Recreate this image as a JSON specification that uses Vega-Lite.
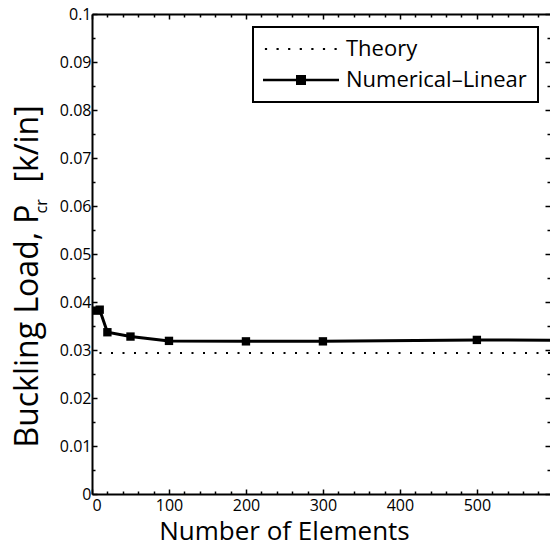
{
  "$schema": "https://vega.github.io/schema/vega-lite/v6.json",
  "width": 458,
  "height": 480,
  "autosize": {"type": "none"},
  "padding": {"left": 92, "top": 14, "right": 0, "bottom": 53},
  "background": "white",
  "config": {
    "view": {"stroke": null},
    "font": "Open Sans",
    "axis": {
      "grid": false,
      "domainColor": "black",
      "domainWidth": 2,
      "tickColor": "black",
      "tickWidth": 1.5,
      "labelColor": "black",
      "labelFont": "Open Sans",
      "labelFontSize": 16,
      "titleColor": "black",
      "titleFont": "Open Sans",
      "titleFontWeight": "normal"
    },
    "legend": {
      "strokeColor": "black",
      "strokeWidth": 2,
      "fillColor": "white"
    }
  },
  "datasets": {
    "num": [
      {"n": 5, "p": 0.0382},
      {"n": 10, "p": 0.0384},
      {"n": 20, "p": 0.0337},
      {"n": 50, "p": 0.0328},
      {"n": 100, "p": 0.0319},
      {"n": 200, "p": 0.0318},
      {"n": 300, "p": 0.0318},
      {"n": 500, "p": 0.0321},
      {"n": 1000, "p": 0.0318}
    ],
    "theory": [{"series": "Theory", "value": 0.0294}],
    "leg": [{"series": "Theory"}, {"series": "Numerical–Linear"}]
  },
  "layer": [
    {
      "data": {"name": "theory"},
      "mark": {"type": "rule", "color": "black", "strokeWidth": 2, "strokeDash": [2, 9.5]},
      "encoding": {
        "y": {
          "field": "value", "type": "quantitative",
          "scale": {"domain": [0, 0.1], "nice": false, "zero": false},
          "axis": {
            "orient": "left",
            "values": [0, 0.01, 0.02, 0.03, 0.04, 0.05, 0.06, 0.07, 0.08, 0.09, 0.1],
            "format": "~g",
            "tickSize": -5,
            "labelPadding": 6,
            "title": "Buckling Load, P\u00a0\u00a0\u2009[k/in]",
            "titleFontSize": 32,
            "titleAngle": -90,
            "titleAlign": "left",
            "titleBaseline": "alphabetic",
            "titleX": -55,
            "titleY": 433
          }
        }
      }
    },
    {
      "data": {"name": "num"},
      "mark": {"type": "line", "color": "black", "strokeWidth": 3, "clip": true,
        "point": {"shape": "square", "size": 70, "filled": true, "color": "black", "opacity": 1}},
      "encoding": {
        "x": {
          "field": "n", "type": "quantitative",
          "scale": {"domain": [0, 595], "nice": false, "zero": false},
          "axis": {
            "orient": "bottom",
            "values": [0, 100, 200, 300, 400, 500],
            "tickSize": -5,
            "labelPadding": 8,
            "title": "Number of Elements",
            "titleFontSize": 26,
            "titleBaseline": "alphabetic",
            "titleX": 192,
            "titleY": 45
          }
        },
        "y": {"field": "p", "type": "quantitative", "scale": {"domain": [0, 0.1], "nice": false}, "axis": null}
      }
    },
    {
      "data": {"name": "num"},
      "mark": {"type": "point", "opacity": 0},
      "encoding": {
        "x": {
          "field": "n", "type": "quantitative",
          "axis": {
            "orient": "bottom",
            "values": [20, 40, 60, 80, 120, 140, 160, 180, 220, 240, 260, 280, 320, 340, 360, 380, 420, 440, 460, 480, 520, 540, 560, 580],
            "tickSize": -3, "labels": false, "domain": false, "title": null
          }
        },
        "y": {
          "field": "p", "type": "quantitative",
          "axis": {
            "orient": "left",
            "values": [0.005, 0.015, 0.025, 0.035, 0.045, 0.055, 0.065, 0.075, 0.085, 0.095],
            "tickSize": -3, "labels": false, "domain": false,
            "title": "cr",
            "titleFontSize": 16,
            "titleAngle": -90,
            "titleAlign": "left",
            "titleBaseline": "alphabetic",
            "titleX": -46,
            "titleY": 199
          }
        }
      }
    },
    {
      "data": {"name": "num"},
      "mark": {"type": "point", "opacity": 0},
      "encoding": {
        "x": {
          "field": "n", "type": "quantitative",
          "axis": {
            "orient": "top",
            "values": [0, 100, 200, 300, 400, 500],
            "tickSize": -5, "labels": false, "domain": true, "title": null
          }
        },
        "y": {
          "field": "p", "type": "quantitative",
          "axis": {
            "orient": "right",
            "values": [0, 0.01, 0.02, 0.03, 0.04, 0.05, 0.06, 0.07, 0.08, 0.09, 0.1],
            "tickSize": -5, "labels": false, "domain": false, "title": null
          }
        }
      }
    },
    {
      "data": {"name": "num"},
      "mark": {"type": "point", "opacity": 0},
      "encoding": {
        "x": {
          "field": "n", "type": "quantitative",
          "axis": {
            "orient": "top",
            "values": [20, 40, 60, 80, 120, 140, 160, 180, 220, 240, 260, 280, 320, 340, 360, 380, 420, 440, 460, 480, 520, 540, 560, 580],
            "tickSize": -3, "labels": false, "domain": false, "title": null
          }
        },
        "y": {
          "field": "p", "type": "quantitative",
          "axis": {
            "orient": "right",
            "values": [0.005, 0.015, 0.025, 0.035, 0.045, 0.055, 0.065, 0.075, 0.085, 0.095],
            "tickSize": -3, "labels": false, "domain": false, "title": null
          }
        }
      }
    },
    {
      "data": {"name": "leg"},
      "mark": {"type": "point", "filled": true, "color": "black", "opacity": 0},
      "encoding": {
        "shape": {
          "field": "series", "type": "nominal",
          "scale": {
            "domain": ["Theory", "Numerical–Linear"],
            "range": [
              "M-3.61,-0.11h0.22v0.22h-0.22z M-2.45,-0.11h0.22v0.22h-0.22z M-1.29,-0.11h0.22v0.22h-0.22z M-0.13,-0.11h0.22v0.22h-0.22z M1.03,-0.11h0.22v0.22h-0.22z M2.19,-0.11h0.22v0.22h-0.22z M3.35,-0.11h0.22v0.22h-0.22z",
              "M-3.8,-0.13H3.8V0.13H-3.8Z M-0.5,-0.5H0.5V0.5H-0.5Z"
            ]
          },
          "legend": {
            "title": null,
            "orient": "none",
            "legendX": 161,
            "legendY": 13,
            "padding": 11,
            "labelFont": "Open Sans",
            "labelFontSize": 22,
            "labelColor": "black",
            "labelLimit": 400,
            "symbolSize": 400,
            "symbolFillColor": "black",
            "symbolStrokeColor": "black",
            "symbolStrokeWidth": 0,
            "symbolOpacity": 1,
            "symbolOffset": 26,
            "labelOffset": 34,
            "rowPadding": 9
          }
        }
      }
    }
  ],
  "resolve": {"axis": {"x": "independent", "y": "independent"}}
}
